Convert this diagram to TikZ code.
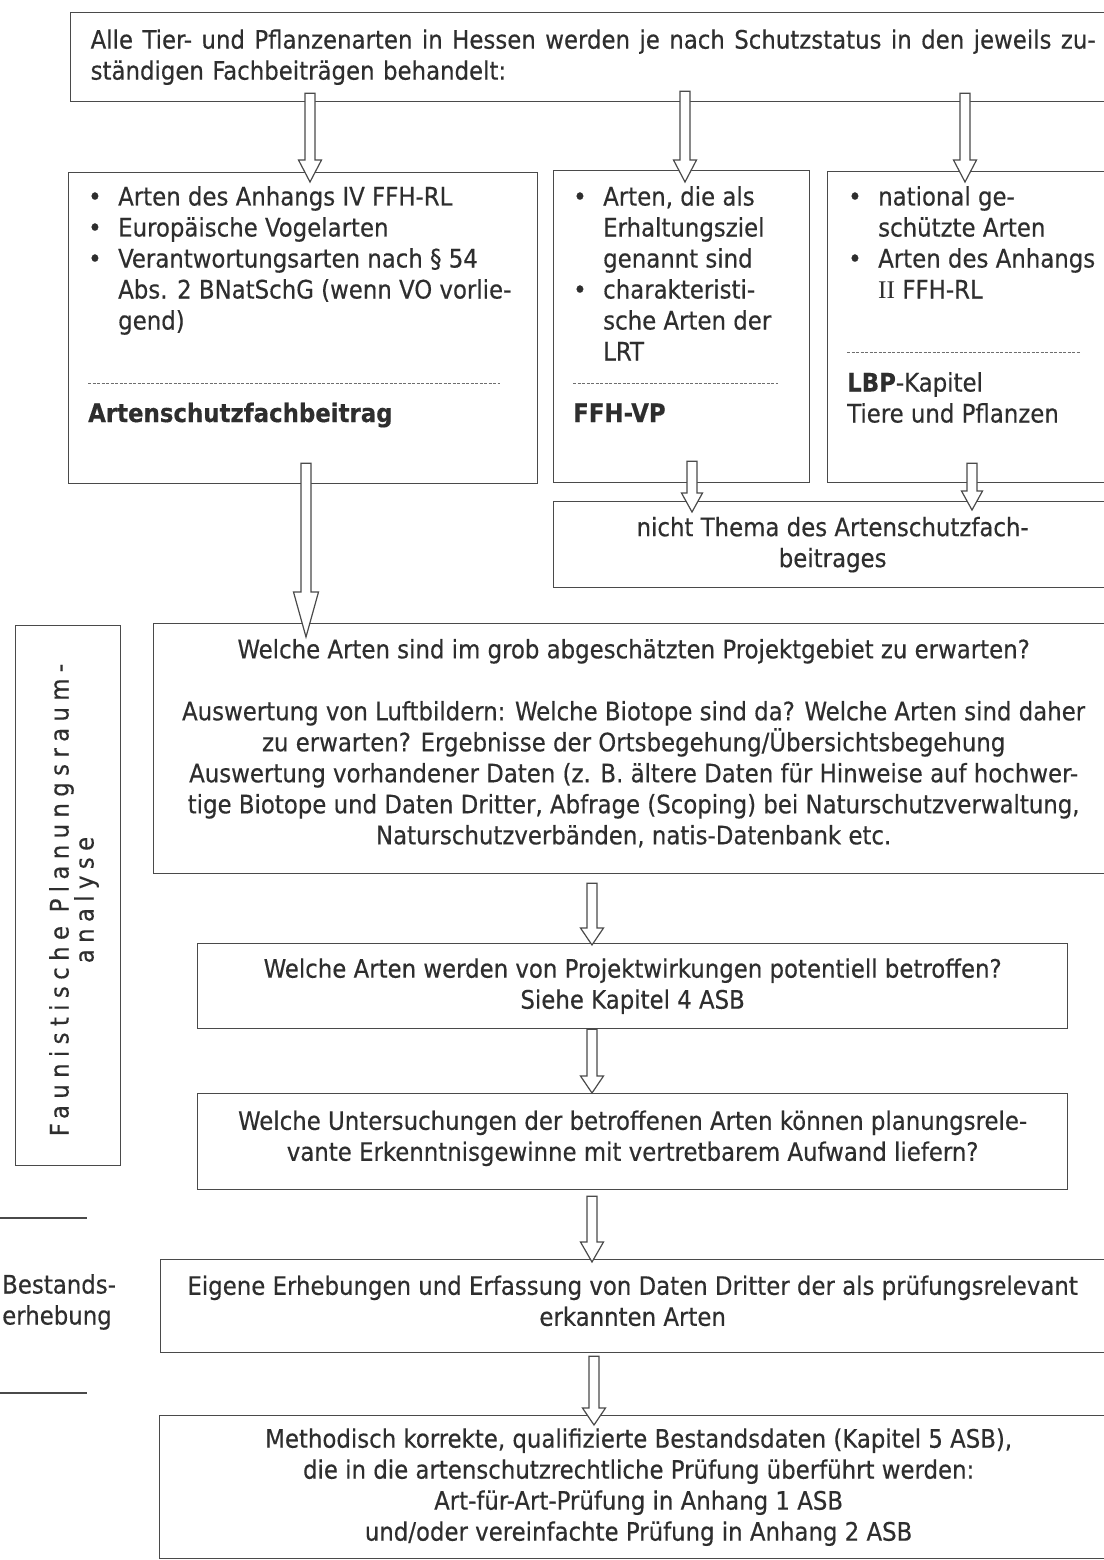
\documentclass[tikz,border=0pt]{standalone}
\usepackage{fontspec}
\setmainfont{DejaVu Sans Condensed}[FakeBold=0.4]
\newfontfamily\serifII{Liberation Serif}
\usetikzlibrary{calc}
\definecolor{ln}{HTML}{4A4A4A}
\definecolor{tx}{HTML}{2E2E2E}
% hollow block arrow: #1 start, #2 tip, #3 head length, #4 head half width
\newcommand\harrow[4]{%
  \draw[harrowst] let \p1=(#1), \p2=(#2) in
   (\x2-5pt,\y1) -- (\x2+5pt,\y1) -- (\x2+5pt,\y2+#3) -- (\x2+#4,\y2+#3)
   -- (\x2,\y2) -- (\x2-#4,\y2+#3) -- (\x2-5pt,\y2+#3) -- cycle;}
\newcommand\bul{\makebox[25pt][l]{\hspace*{-5pt}•}}
\newcommand\ind{\hspace*{25pt}}
\begin{document}
\begin{tikzpicture}[x=1pt,y=-1pt, font=\fontsize{25.4}{31}\selectfont, text=tx,
  box/.style={draw=ln, line width=1.3pt, inner sep=0pt, anchor=north west, align=center},
  harrowst/.style={draw=ln, line width=1.2pt, fill=white, line join=miter},
  dashline/.style={draw=ln!80, line width=0.9pt, dash pattern=on 3pt off 1.5pt},
  txt/.style={inner sep=0pt, anchor=north west, align=left},
  sideline/.style={draw=ln, line width=1.1pt}]
\fill[white] (0,0) rectangle (1103,1560);
\useasboundingbox (0,0) rectangle (1103,1560);

% top box
\node[box, minimum width=1045pt, minimum height=89pt, text width=1005pt, align=left] (top) at (70,12)
  {{\spaceskip=.3em plus 1em\makebox[1005pt][s]{Alle Tier- und Pflanzenarten in Hessen werden je nach Schutzstatus in den jeweils zu-}}\\ständigen Fachbeiträgen behandelt:};

% three category boxes
\node[box, minimum width=469pt, minimum height=311pt] (A) at (68,172) {};
\node[box, minimum width=256pt, minimum height=312pt] (B) at (553,170) {};
\node[box, minimum width=290pt, minimum height=311pt] (C) at (827,171) {};

\node[txt] (Atxt) at (93,186) {\bul Arten des Anhangs IV FFH-RL\\\bul Europäische Vogelarten\\\bul Verantwortungsarten nach § 54\\\ind Abs. 2 BNatSchG (wenn VO vorlie-\\\ind gend)};
\draw[dashline] (88,383) -- (500,383);
\node[txt, anchor=base west] (Alab) at (88,422) {\bfseries Artenschutzfachbeitrag};

\node[txt] (Btxt) at (578,186) {\bul Arten, die als\\\ind Erhaltungsziel\\\ind genannt sind\\\bul charakteristi-\\\ind sche Arten der\\\ind LRT};
\draw[dashline] (573,383) -- (778,383);
\node[txt, anchor=base west] (Blab) at (573,422) {\bfseries FFH-VP};

\node[txt] (Ctxt) at (853,186) {\bul national ge-\\\ind schützte Arten\\\bul Arten des Anhangs\\\ind {\serifII II} FFH-RL};
\draw[dashline] (847,352) -- (1080,352);
\node[txt] (Clab) at (847,372) {{\bfseries LBP}-Kapitel\\Tiere und Pflanzen};

% not-topic box
\node[box, minimum width=558pt, minimum height=86pt] (D) at (553,501) {nicht Thema des Artenschutzfach-\\beitrages};

% main flow
\node[box, minimum width=960pt, minimum height=250pt] (E) at (153,623)
  {Welche Arten sind im grob abgeschätzten Projektgebiet zu erwarten?\\[31pt]
   Auswertung von Luftbildern: Welche Biotope sind da? Welche Arten sind daher\\
   zu erwarten? Ergebnisse der Ortsbegehung/Übersichtsbegehung\\
   Auswertung vorhandener Daten (z. B. ältere Daten für Hinweise auf hochwer-\\
   tige Biotope und Daten Dritter, Abfrage (Scoping) bei Naturschutzverwaltung,\\
   Naturschutzverbänden, natis-Datenbank etc.\rule[-14pt]{0pt}{14pt}};
\node[box, minimum width=870pt, minimum height=85pt] (F) at (197,943)
  {Welche Arten werden von Projektwirkungen potentiell betroffen?\\Siehe Kapitel 4 ASB};
\node[box, minimum width=870pt, minimum height=96pt] (G) at (197,1093)
  {Welche Untersuchungen der betroffenen Arten können planungsrele-\\vante Erkenntnisgewinne mit vertretbarem Aufwand liefern?\rule[-12pt]{0pt}{12pt}};
\node[box, minimum width=944pt, minimum height=93pt] (H) at (160,1259)
  {Eigene Erhebungen und Erfassung von Daten Dritter der als prüfungsrelevant\\erkannten Arten\rule[-11pt]{0pt}{11pt}};
\node[box, minimum width=958pt, minimum height=143pt] (I) at (159,1415)
  {Methodisch korrekte, qualifizierte Bestandsdaten (Kapitel 5 ASB),\\
   die in die artenschutzrechtliche Prüfung überführt werden:\\
   Art-für-Art-Prüfung in Anhang 1 ASB\\
   und/oder vereinfachte Prüfung in Anhang 2 ASB};

% side labels
\node[box, minimum width=105pt, minimum height=540pt] (L) at (15,625) {};
\node[rotate=90, align=center, inner sep=0pt, font=\fontsize{25.4}{25}\selectfont\addfontfeature{LetterSpace=25}] (Ltxt) at (74,900)
  {Faunistische Planungsraum-\\analyse};
\coordinate (s1a) at (0,1218); \coordinate (s1b) at (87,1218);
\coordinate (s2a) at (0,1393); \coordinate (s2b) at (87,1393);
\draw[sideline] (s1a) -- (s1b);
\draw[sideline] (s2a) -- (s2b);
\node[txt] (Best) at (2,1274) {Bestands-\\erhebung};

% hollow arrows
\harrow{[xshift=240pt,yshift=9pt]top.south west}{[xshift=242pt,yshift=-10pt]A.north west}{22pt}{11.5pt}
\harrow{[xshift=615pt,yshift=11pt]top.south west}{[xshift=132pt,yshift=-12pt]B.north west}{22pt}{11.5pt}
\harrow{[xshift=895pt,yshift=9pt]top.south west}{[xshift=138pt,yshift=-11pt]C.north west}{22pt}{11.5pt}
\harrow{[xshift=238pt,yshift=21pt]A.south west}{[xshift=153pt,yshift=-14pt]E.north west}{45pt}{12.5pt}
\harrow{[xshift=139pt,yshift=22pt]B.south west}{[xshift=139pt,yshift=-11pt]D.north west}{19pt}{10.5pt}
\harrow{[xshift=145pt,yshift=20pt]C.south west}{[xshift=419pt,yshift=-9pt]D.north west}{19pt}{10.5pt}
\harrow{[xshift=439pt,yshift=-9pt]E.south west}{[xshift=395pt,yshift=-2pt]F.north west}{17pt}{11.5pt}
\harrow{[xshift=395pt,yshift=0pt]F.south west}{[xshift=395pt,yshift=0pt]G.north west}{17pt}{11.5pt}
\harrow{[xshift=395pt,yshift=-6pt]G.south west}{[xshift=432pt,yshift=-3pt]H.north west}{20pt}{11.5pt}
\harrow{[xshift=434pt,yshift=-3pt]H.south west}{[xshift=435pt,yshift=-10pt]I.north west}{17pt}{11.5pt}
\end{tikzpicture}
\end{document}
